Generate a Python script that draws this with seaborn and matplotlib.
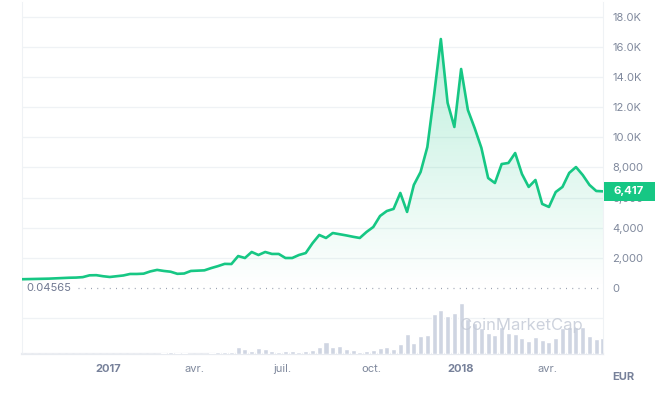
import matplotlib
matplotlib.use("Agg")
import matplotlib.pyplot as plt
import matplotlib.transforms as mtransforms
from matplotlib.patches import Rectangle
import numpy as np
import pandas as pd
import seaborn as sns

# weekly BTC price in EUR
dates = pd.date_range(end="2018-05-29", periods=87, freq="7D")
price = [
    580, 590, 600, 610, 620, 640, 660, 680, 690, 720,
    840, 850, 780, 730, 780, 830, 930, 930, 950, 1100,
    1200, 1130, 1080, 940, 960, 1130, 1150, 1170, 1320, 1450,
    1600, 1590, 2120, 1990, 2390, 2190, 2390, 2260, 2260, 1990,
    1990, 2190, 2320, 2970, 3520, 3320, 3650, 3570, 3490, 3400,
    3320, 3720, 4050, 4780, 5110, 5250, 6310, 5050, 6840, 7700,
    9360, 12820, 16530, 12290, 10690, 14540, 11820, 10620, 9300, 7300,
    6970, 8230, 8300, 8960, 7570, 6710, 7170, 5580, 5380, 6370,
    6710, 7640, 8030, 7500, 6840, 6440, 6417,
]
# weekly volume, relative bar heights
volume = [
    0, 0, 0, 0, 0, 0, 0, 0, 0, 0,
    0, 0, 0, 0, 0, 0, 0, 0, 0, 0,
    0, 1.3, 2, 1.3, 1.3, 0, 0, 0, 1.3, 2,
    2, 2, 7, 5, 3, 6, 5, 3, 2, 3,
    3, 2, 3, 4, 7, 12, 7, 8, 5, 4,
    2, 3, 4, 6, 7, 5, 10, 20, 11, 18,
    19, 40, 44, 38, 41, 51, 35, 31, 26, 21,
    19, 27, 21, 20, 16, 13, 17, 14, 12, 16,
    26, 27, 27, 27, 18, 15, 16,
]
price_ticks = list(range(0, 18001, 2000))
x_ticks = pd.to_datetime(["2017-01-01", "2017-04-01", "2017-07-01",
                          "2017-10-01", "2018-01-01", "2018-04-01"])
x_labels = ["2017", "avr.", "juil.", "oct.", "2018", "avr."]

GREEN = "#16c784"
GRID = "#eff2f5"
TXT = "#7f889c"

sns.set_style("white")
plt.rcParams["font.family"] = ["Inter", "DejaVu Sans"]

fig = plt.figure(figsize=(6.7, 3.96), dpi=100)
ax = fig.add_axes([0.0328, 0.1061, 0.8672, 0.8889])
vax = ax.twinx()

# price line
sns.lineplot(x=dates, y=price, color=GREEN, linewidth=1.9, ax=ax, zorder=4)

# gradient fill under the line
fill = ax.fill_between(dates, price, 0, color="none")
grad = np.linspace(0, 1, 256).reshape(-1, 1)
cmap = matplotlib.colors.LinearSegmentedColormap.from_list(
    "g", [(0.086, 0.78, 0.52, 0.0), (0.086, 0.78, 0.52, 0.28)])
xnum = matplotlib.dates.date2num(dates)
img = ax.imshow(grad, cmap=cmap, aspect="auto", origin="lower",
                extent=[xnum[0], xnum[-1], 0, 16530], zorder=2)
img.set_clip_path(fill.get_paths()[0], transform=ax.transData)

ax.set_xlim(dates[0], dates[-1])
ax.set_ylim(-4383, 18990)

# grid lines
for v in [-2000] + price_ticks[1:]:
    ax.axhline(v, color=GRID, linewidth=0.9, zorder=0)
ax.axhline(0, xmin=0.096, color="#9aa1b0", linewidth=0.9,
           linestyle=(0, (0.8, 4.2)), zorder=1)

ax.yaxis.tick_right()
ax.set_yticks(price_ticks)
ax.set_yticklabels([f"{v/1000:.1f}K" if v >= 10000 else f"{v:,}" for v in price_ticks])
ax.tick_params(axis="y", length=0, pad=6.5, labelsize=8, labelcolor=TXT,
               labelleft=False, labelright=True)

ax.set_xticks(x_ticks)
ax.set_xticklabels(x_labels)
ax.tick_params(axis="x", length=3, width=0.8, color="#e3e6ec", pad=4,
               labelsize=8, labelcolor=TXT)
for lab in ax.get_xticklabels():
    if lab.get_text().isdigit():
        lab.set_fontweight("bold")
        lab.set_color("#77819a")

ax.spines["top"].set_visible(False)
ax.spines["left"].set_color(GRID)
ax.spines["right"].set_color(GRID)
ax.spines["bottom"].set_color("#e8ebf0")
ax.spines["bottom"].set_linewidth(1.6)
ax.set_xlabel("")
ax.set_ylabel("")

# volume bars
vax.bar(dates, volume, width=5.2, color="#cfd5e2", zorder=2)
vax.set_ylim(0, 352)
vax.set_xlim(dates[0], dates[-1])
vax.set_yticks([])
for side in vax.spines:
    vax.spines[side].set_visible(False)
vax.text(0.86, 0.082, "CoinMarketCap", transform=vax.transAxes,
         ha="center", va="center", fontsize=12, color="#c5cbd7",
         alpha=0.85, zorder=3)

# last price label and min label
trans = mtransforms.blended_transform_factory(ax.transAxes, ax.transData)
ax.add_patch(Rectangle((1 + 1 / 581, price[-1] - 630), 51 / 581, 1260,
                       transform=trans, fc=GREEN, ec="none",
                       clip_on=False, zorder=9))
ax.text(1 + 10 / 581, price[-1], f"{price[-1]:,}", transform=trans,
        ha="left", va="center", fontsize=8.2, fontweight="bold",
        color="white", clip_on=False, zorder=10)
ax.text(0.0075, 0, "0.04565", transform=trans, ha="left", va="center",
        fontsize=8, color="#6f7891", zorder=5)

fig.text(612 / 670, 1 - 377 / 396, "EUR", ha="left", va="center",
         fontsize=8, fontweight="bold", color="#77819a")

fig.savefig("out.png", dpi=100)
